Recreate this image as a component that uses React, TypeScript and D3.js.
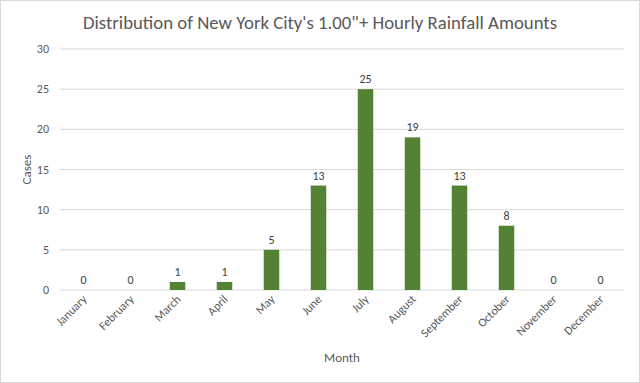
import React from "react";
import * as d3 from "d3";

const months = ["January","February","March","April","May","June","July","August","September","October","November","December"];
const cases = [0,0,1,1,5,13,25,19,13,8,0,0];
const yTicks = [0,5,10,15,20,25,30];
const title = "Distribution of New York City's 1.00\"+ Hourly Rainfall Amounts";

const W = 640, H = 383;
const m = { left: 60, right: 16, top: 49, bottom: 93 };

export default function App() {
  const x = d3.scaleBand<string>().domain(months).range([m.left, W - m.right]).paddingInner(0.67).paddingOuter(0.335);
  const y = d3.scaleLinear().domain([0, 30]).range([H - m.bottom, m.top]);
  const font = "Calibri, Carlito, 'Liberation Sans', Arial, sans-serif";
  return (
    <svg width={W} height={H} style={{ position: "absolute", left: 0, top: 0, background: "#fff" }} fontFamily={font}>
      <rect x={0.5} y={0.5} width={W - 1} height={H - 1} fill="#fff" stroke="#d9d9d9" />
      <text x={320} y={29} textAnchor="middle" fontSize={18.5} fill="#595959" textLength={474} lengthAdjust="spacingAndGlyphs">{title}</text>
      {yTicks.map(t => (
        <g key={t}>
          <line x1={m.left} x2={W - m.right} y1={y(t)} y2={y(t)} stroke="#d9d9d9" strokeWidth={1} />
          <text x={49} y={y(t) + 4} textAnchor="end" fontSize={12} fill="#595959">{t}</text>
        </g>
      ))}
      {months.map((mo, i) => {
        const cx = x(mo)! + x.bandwidth() / 2;
        return (
          <g key={mo}>
            {cases[i] > 0 && <rect x={x(mo)} y={y(cases[i])} width={x.bandwidth()} height={y(0) - y(cases[i])} fill="#548235" />}
            <text x={cx} y={y(cases[i]) - 6} textAnchor="middle" fontSize={12} fill="#404040">{cases[i]}</text>
            <text transform={`translate(${cx + 4},${y(0) + 10}) rotate(-45)`} textAnchor="end" fontSize={12} fill="#595959">{mo}</text>
          </g>
        );
      })}
      <text x={342} y={362} textAnchor="middle" fontSize={13} fill="#595959">Month</text>
      <text transform={`translate(31,${(m.top + H - m.bottom) / 2}) rotate(-90)`} textAnchor="middle" fontSize={13} fill="#595959">Cases</text>
    </svg>
  );
}
